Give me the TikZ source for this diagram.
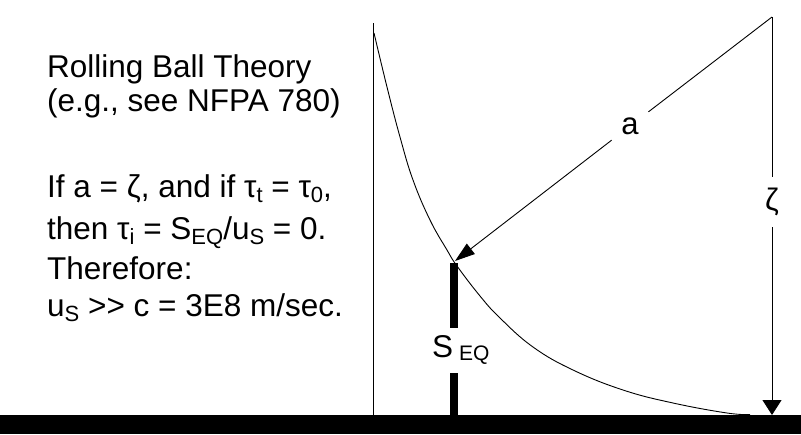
\documentclass[tikz,border=0pt]{standalone}
\usepackage{fontspec}
\setmainfont{Liberation Sans}
\usetikzlibrary{arrows.meta}
\newcommand\sbx[1]{\raisebox{-5pt}{\fontsize{22}{22}\selectfont #1}}
\newcommand\sbq[1]{\raisebox{-3pt}{\fontsize{21}{21}\selectfont #1}}
\begin{document}
\begin{tikzpicture}[x=1pt,y=-1pt,
  thinline/.style={line width=0.9pt},
  txt/.style={anchor=base west, inner sep=0pt, font=\fontsize{31.5}{36}\selectfont},
  lbl/.style={circle, inner sep=0pt, font=\fontsize{31}{36}\selectfont},
  bar/.style={line width=8pt},
  tipa/.style={-{Triangle[length=20pt,width=13pt]}},
  tipz/.style={-{Triangle[length=15pt,width=19pt]}}]
\useasboundingbox (0,0) rectangle (801,434);
% ground
\fill (0,415) rectangle (801,434);
% text block
\node[txt] (t1) at (47,77) {Rolling Ball Theory};
\node[txt] (t2) at (47,111) {(e.g., see NFPA 780)};
\node[txt] (t3) at (47,197) {If a = ζ, and if τ\sbx{t} = τ\sbx{0},};
\node[txt] (t4) at (47,239) {then τ\sbx{i} = S\sbx{EQ}/u\sbx{S} = 0.};
\node[txt] (t5) at (47,279) {Therefore:};
\node[txt] (t6) at (47,316) {u\sbx{S} \mbox{>}\mbox{>} c = 3E8 m/sec.};
% left vertical
\coordinate (ltop) at (373,23);
\coordinate (lbot) at (373,415);
\draw[thinline] (ltop) -- (lbot);
% curve
\draw[thinline] plot[smooth, tension=0.7] coordinates {(374,33) (387,87) (400,137) (413,180) (430,220) (447,250) (457,266) (480,296) (500,318) (533,347) (573,370) (623,390) (673,403) (727,413) (750,414.5)};
% right vertical with zeta
\coordinate (rtop) at (772,17);
\coordinate (rbot) at (772,415);
\node[lbl, minimum size=50pt] (zeta) at (772,202) {ζ};
\draw[thinline] (rtop) -- (zeta);
\draw[thinline, tipz] (zeta) -- (rbot);
% a line
\node[lbl, minimum size=46pt] (alab) at (630,126) {a};
\coordinate (atip) at (455,261);
\draw[thinline] (rtop) -- (alab);
\draw[thinline, tipa] (alab) -- (atip);
% SEQ bar
\coordinate (stop) at (454,263);
\coordinate (sg1) at (454,328);
\coordinate (sg2) at (454,373);
\coordinate (sbot) at (454,415);
\draw[bar] (stop) -- (sg1);
\draw[bar] (sg2) -- (sbot);
\node[txt] (seq) at (432,357) {S\hspace{6pt}\sbq{EQ}};
\end{tikzpicture}
\end{document}
